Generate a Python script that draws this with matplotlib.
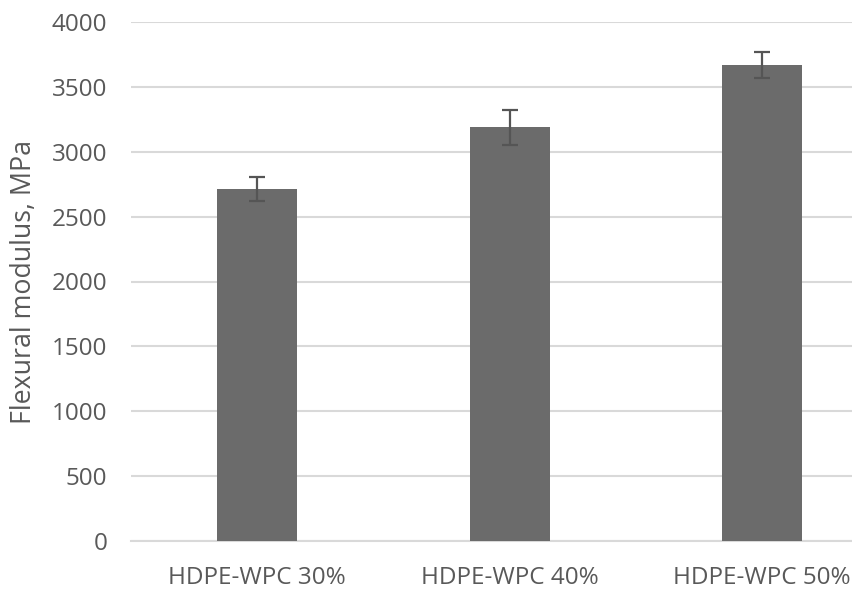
import matplotlib
matplotlib.use("Agg")
import matplotlib.pyplot as plt
import numpy as np

categories = ["HDPE-WPC 30%", "HDPE-WPC 40%", "HDPE-WPC 50%"]
values = [2710, 3188, 3670]
errors = [93, 136, 98]
yticks = [0, 500, 1000, 1500, 2000, 2500, 3000, 3500, 4000]

plt.rcParams['font.family'] = ['Open Sans', 'DejaVu Sans']

fig = plt.figure(figsize=(8.52, 5.91), dpi=100)
ax = fig.add_axes([131/852, 50/591, (852-131)/852, 519/591])

x = np.arange(len(categories))
ax.bar(x, values, width=0.317, color='#6b6b6b', zorder=3)
ax.errorbar(x, values, yerr=errors, fmt='none', ecolor='#555555',
            elinewidth=1.6, capsize=5.5, capthick=1.6, zorder=4)

ax.set_ylim(0, 4000)
ax.set_xlim(-0.5, -0.5 + (852-131)/252.5)
ax.set_yticks(yticks)
ax.set_xticks(x)
ax.set_xticklabels(categories)
ax.yaxis.grid(True, color='#d9d9d9', linewidth=1.5, zorder=0)
for s in ['top', 'right', 'left']:
    ax.spines[s].set_visible(False)
ax.spines['bottom'].set_color('#d9d9d9')
ax.spines['bottom'].set_linewidth(1.5)
ax.tick_params(axis='both', length=0, labelsize=17.5, colors='#595959')
ax.tick_params(axis='y', pad=17)
ax.tick_params(axis='x', pad=18)
fig.text(24/852, 1 - 281.5/591, 'Flexural modulus, MPa', rotation=90,
         ha='center', va='center', fontsize=19.3, color='#595959')

fig.savefig('out.png', dpi=100)
